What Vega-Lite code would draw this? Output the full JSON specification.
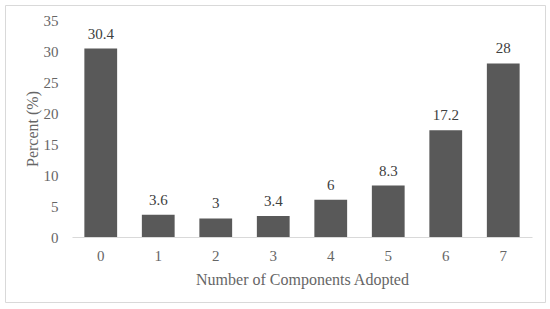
{
  "$schema": "https://vega.github.io/schema/vega-lite/v6.json",
  "width": 540,
  "height": 297,
  "autosize": "none",
  "padding": {"left": 5, "top": 5, "right": 5, "bottom": 7},
  "background": "white",
  "config": {
    "view": {"stroke": "#d9d9d9", "strokeWidth": 1},
    "font": "Liberation Serif"
  },
  "data": {
    "values": [
      {"components": "0", "percent": 30.4},
      {"components": "1", "percent": 3.6},
      {"components": "2", "percent": 3},
      {"components": "3", "percent": 3.4},
      {"components": "4", "percent": 6},
      {"components": "5", "percent": 8.3},
      {"components": "6", "percent": 17.2},
      {"components": "7", "percent": 28}
    ]
  },
  "encoding": {
    "x": {
      "field": "components",
      "type": "ordinal",
      "sort": null,
      "scale": {"range": [67, 527], "paddingInner": 0.43, "paddingOuter": 0.215},
      "axis": {
        "title": "Number of Components Adopted",
        "offset": -65,
        "labelAngle": 0,
        "ticks": false,
        "domainColor": "#d9d9d9",
        "labelColor": "#666666",
        "labelFontSize": 15,
        "labelPadding": 11,
        "titleColor": "#666666",
        "titleFontSize": 16,
        "titleFontWeight": "normal",
        "titlePadding": 8
      }
    },
    "y": {
      "field": "percent",
      "type": "quantitative",
      "scale": {"domain": [0, 35], "range": [232, 15], "nice": false},
      "axis": {
        "title": "Percent (%)",
        "offset": -61,
        "values": [0, 5, 10, 15, 20, 25, 30, 35],
        "domain": false,
        "ticks": false,
        "grid": false,
        "labelColor": "#666666",
        "labelFontSize": 15,
        "labelPadding": 8,
        "titleColor": "#666666",
        "titleFontSize": 16,
        "titleFontWeight": "normal",
        "titlePadding": 3
      }
    }
  },
  "layer": [
    {"mark": {"type": "bar", "color": "#595959"}},
    {
      "mark": {"type": "text", "dy": -7, "baseline": "bottom", "color": "#404040", "fontSize": 15},
      "encoding": {"text": {"field": "percent", "type": "quantitative"}}
    }
  ]
}
